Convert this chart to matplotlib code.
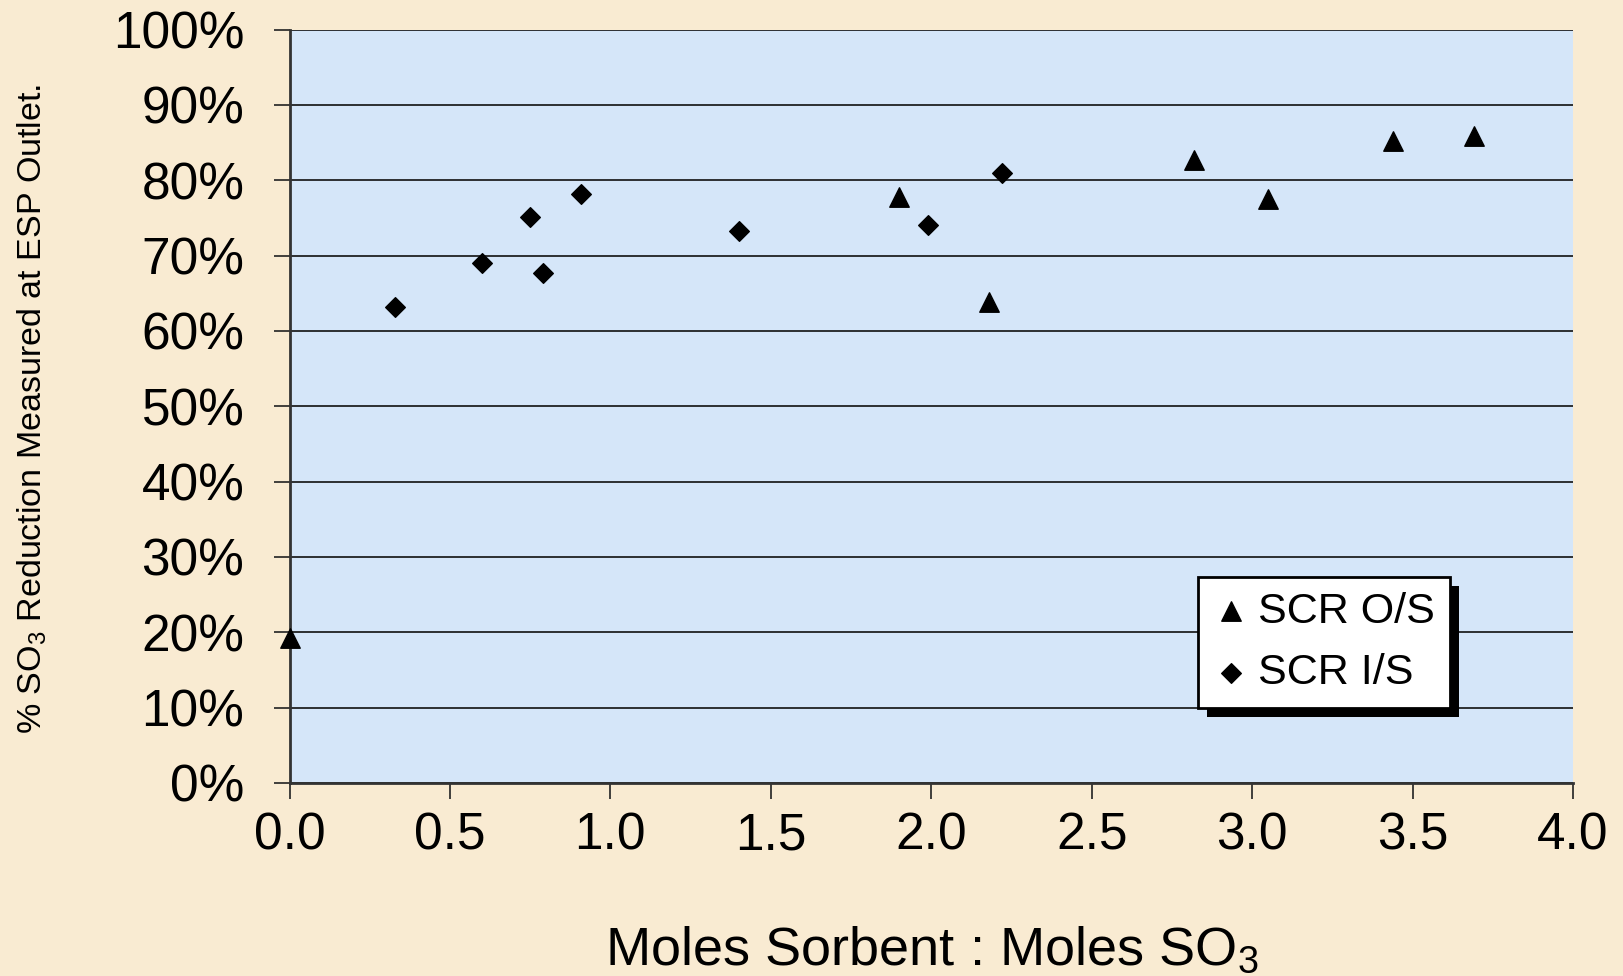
import matplotlib
matplotlib.use("Agg")
import matplotlib.pyplot as plt
from matplotlib.patches import Rectangle
from matplotlib.ticker import FixedLocator
from matplotlib.transforms import IdentityTransform

plt.rcParams['font.family'] = ['Liberation Sans', 'DejaVu Sans']
plt.rcParams['mathtext.default'] = 'regular'

# Data
os_label = "SCR O/S"
os_x = [0.0, 1.90, 2.18, 2.82, 3.05, 3.44, 3.69]
os_y = [19.2, 77.8, 63.8, 82.7, 77.5, 85.2, 85.9]

is_label = "SCR I/S"
is_x = [0.33, 0.60, 0.75, 0.79, 0.91, 1.40, 1.99, 2.22]
is_y = [63.2, 69.0, 75.1, 67.7, 78.2, 73.3, 74.1, 81.0]

x_ticks = [0.0, 0.5, 1.0, 1.5, 2.0, 2.5, 3.0, 3.5, 4.0]
x_ticklabels = ["0.0", "0.5", "1.0", "1.5", "2.0", "2.5", "3.0", "3.5", "4.0"]
y_ticks = [0, 10, 20, 30, 40, 50, 60, 70, 80, 90, 100]
y_ticklabels = [f"{v}%" for v in y_ticks]

x_title = "Moles Sorbent : Moles SO$_3$"
y_title = "% SO$_3$ Reduction Measured at ESP Outlet."

W, H = 1623, 976
fig = plt.figure(figsize=(W / 100, H / 100), dpi=100)
fig.patch.set_facecolor('#F9EBD2')

ax = fig.add_axes([289.5 / W, 1 - 783 / H, (1573 - 289.5) / W, (783 - 29.5) / H])
ax.set_facecolor('#D5E6F9')

ax.scatter(os_x, os_y, marker='^', s=14**2, color='black', clip_on=False, zorder=3, label=os_label)
ax.scatter(is_x, is_y, marker='D', s=10**2, color='black', clip_on=False, zorder=3, label=is_label)

ax.set_xlim(0, 4)
ax.set_ylim(0, 100)
ax.xaxis.set_major_locator(FixedLocator(x_ticks))
ax.set_xticklabels(x_ticklabels)
ax.yaxis.set_major_locator(FixedLocator(y_ticks))
ax.set_yticklabels(y_ticklabels)

ax.yaxis.grid(True, color='#111111', lw=1.2)
ax.set_axisbelow(True)

for s in ['top', 'right']:
    ax.spines[s].set_visible(False)
for s in ['left', 'bottom']:
    ax.spines[s].set_color('#333333')
    ax.spines[s].set_linewidth(2)

ax.tick_params(axis='both', direction='out', length=11.5, width=1.2, color='#222222',
               labelsize=37)
ax.tick_params(axis='y', pad=21)
ax.tick_params(axis='x', pad=9)

fig.text(932 / W, 1 - 965 / H, x_title, ha='center', va='baseline', fontsize=39)
fig.text(32 / W, 1 - 409 / H, y_title, ha='center', va='center', rotation=90, fontsize=24.5)

leg = ax.legend(loc='upper left', bbox_to_anchor=(1197.6 / W, 1 - 576.5 / H),
                bbox_transform=fig.transFigure, fontsize=31, frameon=True, fancybox=False,
                edgecolor='black', facecolor='white', framealpha=1, borderpad=0.35,
                handletextpad=0.2, labelspacing=0.5, borderaxespad=0, handlelength=0.85)
leg.get_frame().set_linewidth(2)
leg.set_zorder(10)

fig.canvas.draw()
bb = leg.get_window_extent()
off = 9
shadow = Rectangle((bb.x0 + off, bb.y0 - off), bb.width, bb.height,
                   facecolor='black', edgecolor='none', zorder=9)
shadow.set_transform(IdentityTransform())
shadow.set_clip_on(False)
ax.add_artist(shadow)

fig.savefig('out.png', dpi=100, facecolor=fig.get_facecolor())
